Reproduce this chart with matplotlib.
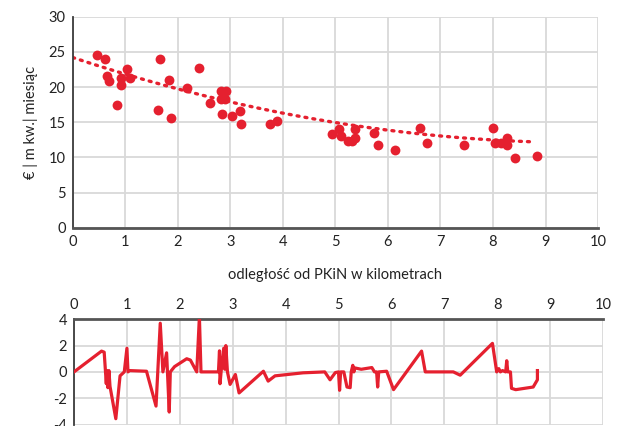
import numpy as np
import matplotlib
matplotlib.use("Agg")
import matplotlib.pyplot as plt

plt.rcParams['font.family'] = ['Lato', 'DejaVu Sans']

# Scatter data: distance from PKiN (km) vs price (EUR / m2 / month)
dist = [0.46, 0.62, 0.65, 0.70, 0.84, 0.91, 0.92, 1.03, 1.09, 1.62, 1.66, 1.83,
        1.87, 2.18, 2.41, 2.61, 2.82, 2.91, 2.82, 2.89, 2.84, 3.03, 3.18, 3.21,
        3.75, 3.89, 4.93, 5.06, 5.10, 5.24, 5.31, 5.37, 5.37, 5.74, 5.82, 6.14,
        6.62, 6.74, 7.44, 8.00, 8.04, 8.15, 8.26, 8.27, 8.41, 8.83]
price = [24.6, 24.0, 21.5, 20.9, 17.4, 21.3, 20.3, 22.6, 21.3, 16.8, 24.0, 21.0,
         15.6, 19.9, 22.7, 17.7, 19.4, 19.4, 18.3, 18.3, 16.2, 15.9, 16.6, 14.7,
         14.8, 15.1, 13.3, 14.0, 13.1, 12.3, 12.3, 14.1, 12.8, 13.4, 11.8, 11.1,
         14.2, 12.1, 11.7, 14.2, 12.0, 12.0, 12.7, 11.7, 9.9, 10.2]

# Polynomial trendline coefficients, and its x-range
trend_coef = [0.128, -2.49, 24.2]
trend_range = [0.0, 8.73]

# Residual line
res_x = [0.00, 0.52, 0.57, 0.61, 0.62, 0.64, 0.66, 0.68, 0.79, 0.87, 0.95, 1.00, 1.02,
         1.05, 1.37, 1.55, 1.63, 1.68, 1.75, 1.80, 1.82, 1.90, 2.13, 2.20, 2.32, 2.37,
         2.40, 2.73, 2.75, 2.76, 2.78, 2.83, 2.85, 2.87, 2.90, 2.95, 3.05, 3.12, 3.58,
         3.67, 3.80, 4.33, 4.74, 4.84, 4.94, 5.00, 5.02, 5.04, 5.10, 5.16, 5.22, 5.24,
         5.27, 5.29, 5.31, 5.43, 5.63, 5.68, 5.72, 5.74, 5.76, 5.91, 6.04, 6.57, 6.64,
         7.17, 7.30, 7.91, 7.99, 8.03, 8.06, 8.10, 8.16, 8.18, 8.20, 8.25, 8.27, 8.35,
         8.68, 8.76, 8.76]
res_y = [0.00, 1.58, 1.50, -0.90, 0.10, -1.20, 0.10, -1.10, -3.56, -0.30, 0.00, 1.80,
         0.00, 0.10, 0.05, -2.60, 3.70, 0.00, 1.45, -3.05, 0.00, 0.40, 1.00, 0.90, 0.00,
         4.20, 0.00, 0.00, 1.60, -0.90, 0.00, 1.80, 0.20, 2.00, 0.00, -0.95, -0.20, -1.60,
         0.05, -0.70, -0.30, -0.07, 0.00, -0.60, -0.05, 0.00, -1.40, 0.00, 0.00, -1.15,
         -1.20, 0.00, 0.50, 0.00, 0.30, 0.20, 0.33, 0.00, 0.00, -1.15, 0.00, 0.05, -1.35,
         1.58, 0.00, 0.00, -0.25, 2.17, 0.00, 0.25, 0.00, 0.10, 0.00, 0.85, 0.00, 0.00,
         -1.25, -1.35, -1.15, -0.60, 0.10]

x_ticks = list(range(0, 11))
y_ticks_top = [0, 5, 10, 15, 20, 25, 30]
y_ticks_bot = [-4, -2, 0, 2, 4]
y_tick_labels_bot = ['-4', '-2', '0', '2', '4']

red = '#E5202F'
grid_c = '#d9d9d9'
spine_c = '#3c3c3c'
txt_c = '#222222'

fig = plt.figure(figsize=(6.2, 4.26), dpi=100)

# Top scatter
ax = fig.add_axes([0.1173, 0.4655, 0.8473, 0.4953])
ax.scatter(dist, price, s=50, color=red, zorder=3, linewidths=0)
xt = np.linspace(trend_range[0], trend_range[1], 200)
ax.plot(xt, np.polyval(trend_coef, xt), color=red, lw=2.4, linestyle=(0, (0.6, 1.8)),
        dash_capstyle='round', zorder=2)
ax.set_xlim(0, 10)
ax.set_ylim(0, 30)
ax.set_xticks(x_ticks)
ax.set_yticks(y_ticks_top)
ax.grid(True, color=grid_c, lw=1.3)
ax.set_axisbelow(True)
for s in ['top', 'right']:
    ax.spines[s].set_visible(False)
ax.spines['left'].set_color(spine_c)
ax.spines['bottom'].set_color('#555555')
ax.spines['left'].set_linewidth(1.3)
ax.spines['bottom'].set_linewidth(2.0)
ax.tick_params(length=0, labelsize=10.5, colors=txt_c, pad=5)
ax.set_xlabel('odległość od PKiN w kilometrach', fontsize=10.5, color=txt_c, labelpad=14)
ax.set_ylabel('€ | m kw.| miesiąc', fontsize=10.5, color=txt_c, labelpad=8)

# Bottom residuals
ax2 = fig.add_axes([0.1194, 0.0035, 0.8532, 0.247])
ax2.plot(res_x, res_y, color=red, lw=2.3, solid_joinstyle='round', zorder=3)
ax2.set_xlim(0, 10)
ax2.set_ylim(-4, 4)
ax2.set_xticks(x_ticks)
ax2.set_yticks(y_ticks_bot)
ax2.set_yticklabels(y_tick_labels_bot)
ax2.xaxis.tick_top()
ax2.grid(True, color=grid_c, lw=1.3)
ax2.set_axisbelow(True)
for s in ['bottom', 'right']:
    ax2.spines[s].set_visible(False)
ax2.spines['left'].set_color(spine_c)
ax2.spines['top'].set_color('#555555')
ax2.spines['left'].set_linewidth(1.3)
ax2.spines['top'].set_linewidth(2.0)
ax2.tick_params(length=0, labelsize=10.5, colors=txt_c, pad=5)

fig.savefig('out.png', dpi=100)
